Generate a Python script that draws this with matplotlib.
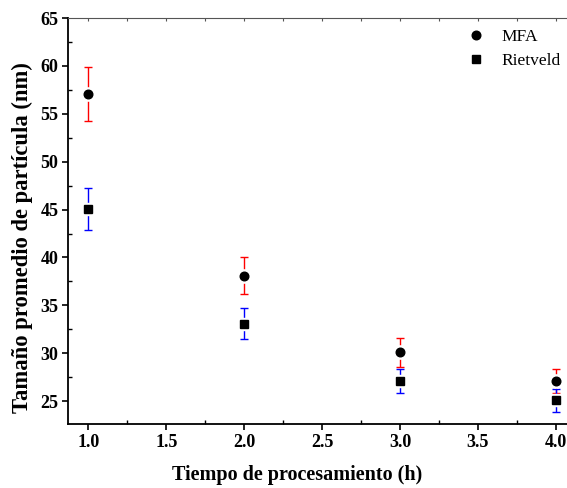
import numpy as np
import matplotlib
matplotlib.use("Agg")
import matplotlib.pyplot as plt
from matplotlib.ticker import MultipleLocator, FormatStrFormatter

# data
tiempo = [1.0, 2.0, 3.0, 4.0]
mfa = [57.1, 38.1, 30.1, 27.1]
mfa_err = [2.8, 1.9, 1.5, 1.3]
rietveld = [45.1, 33.1, 27.1, 25.1]
rietveld_err = [2.2, 1.6, 1.3, 1.2]

plt.rcParams["font.family"] = ["Liberation Serif", "DejaVu Serif"]

fig = plt.figure(figsize=(5.67, 4.88), dpi=100)
ax = fig.add_axes([0.12, 0.131, 0.896, 0.832])

ax.errorbar(tiempo, mfa, yerr=mfa_err, fmt="none", ecolor="red", elinewidth=1.0,
            capsize=3, capthick=1.0, zorder=2)
ax.errorbar(tiempo, rietveld, yerr=rietveld_err, fmt="none", ecolor="blue", elinewidth=1.0,
            capsize=3, capthick=1.0, zorder=2)
# white halo behind markers (gap in the error bars)
ax.plot(tiempo, mfa, "o", color="white", markersize=9.5, zorder=3)
ax.plot(tiempo, rietveld, "s", color="white", markersize=8.5, zorder=3)
ax.plot(tiempo, mfa, "o", color="black", markersize=6.2, zorder=4, label="MFA")
ax.plot(tiempo, rietveld, "s", color="black", markersize=5.3, zorder=4, label="Rietveld")

ax.set_xlim(0.87, 4.13)
ax.set_ylim(22.6, 65)
ax.xaxis.set_major_locator(MultipleLocator(0.5))
ax.xaxis.set_minor_locator(MultipleLocator(0.25))
ax.yaxis.set_major_locator(MultipleLocator(5))
ax.yaxis.set_minor_locator(MultipleLocator(2.5))
ax.xaxis.set_major_formatter(FormatStrFormatter("%.1f"))

ax.tick_params(which="major", direction="out", length=4.5, width=1.2, labelsize=13, pad=2.5)
ax.tick_params(which="minor", direction="in", length=3, width=1.0)
for lab in ax.get_xticklabels() + ax.get_yticklabels():
    lab.set_fontweight("bold")

ax.spines["right"].set_visible(False)
ax.spines["top"].set_color("#555555")
ax.spines["left"].set_linewidth(1.3)
ax.spines["bottom"].set_linewidth(1.3)

# top axis: short inward ticks only
top = ax.twiny()
top.set_xlim(ax.get_xlim())
top.xaxis.set_major_locator(MultipleLocator(0.25))
top.tick_params(axis="x", which="major", direction="in", length=2.5, width=0.8,
                colors="#555555", labeltop=False)
top.xaxis.set_minor_locator(matplotlib.ticker.NullLocator())
for s in top.spines.values():
    s.set_visible(False)

ax.set_xlabel("Tiempo de procesamiento (h)", fontsize=14.5, fontweight="bold")
ax.set_ylabel("Tamaño promedio de partícula (nm)", fontsize=16.3, fontweight="bold")
ax.xaxis.set_label_coords(0.451, -0.101)
ax.yaxis.set_label_coords(-0.069, 0.46)

ax.legend(loc="upper left", bbox_to_anchor=(0.765, 1.0), frameon=False, fontsize=12.5,
          handletextpad=1.0, handlelength=1.0, borderaxespad=0.2, labelspacing=0.45)

fig.savefig("out.png", dpi=100)
